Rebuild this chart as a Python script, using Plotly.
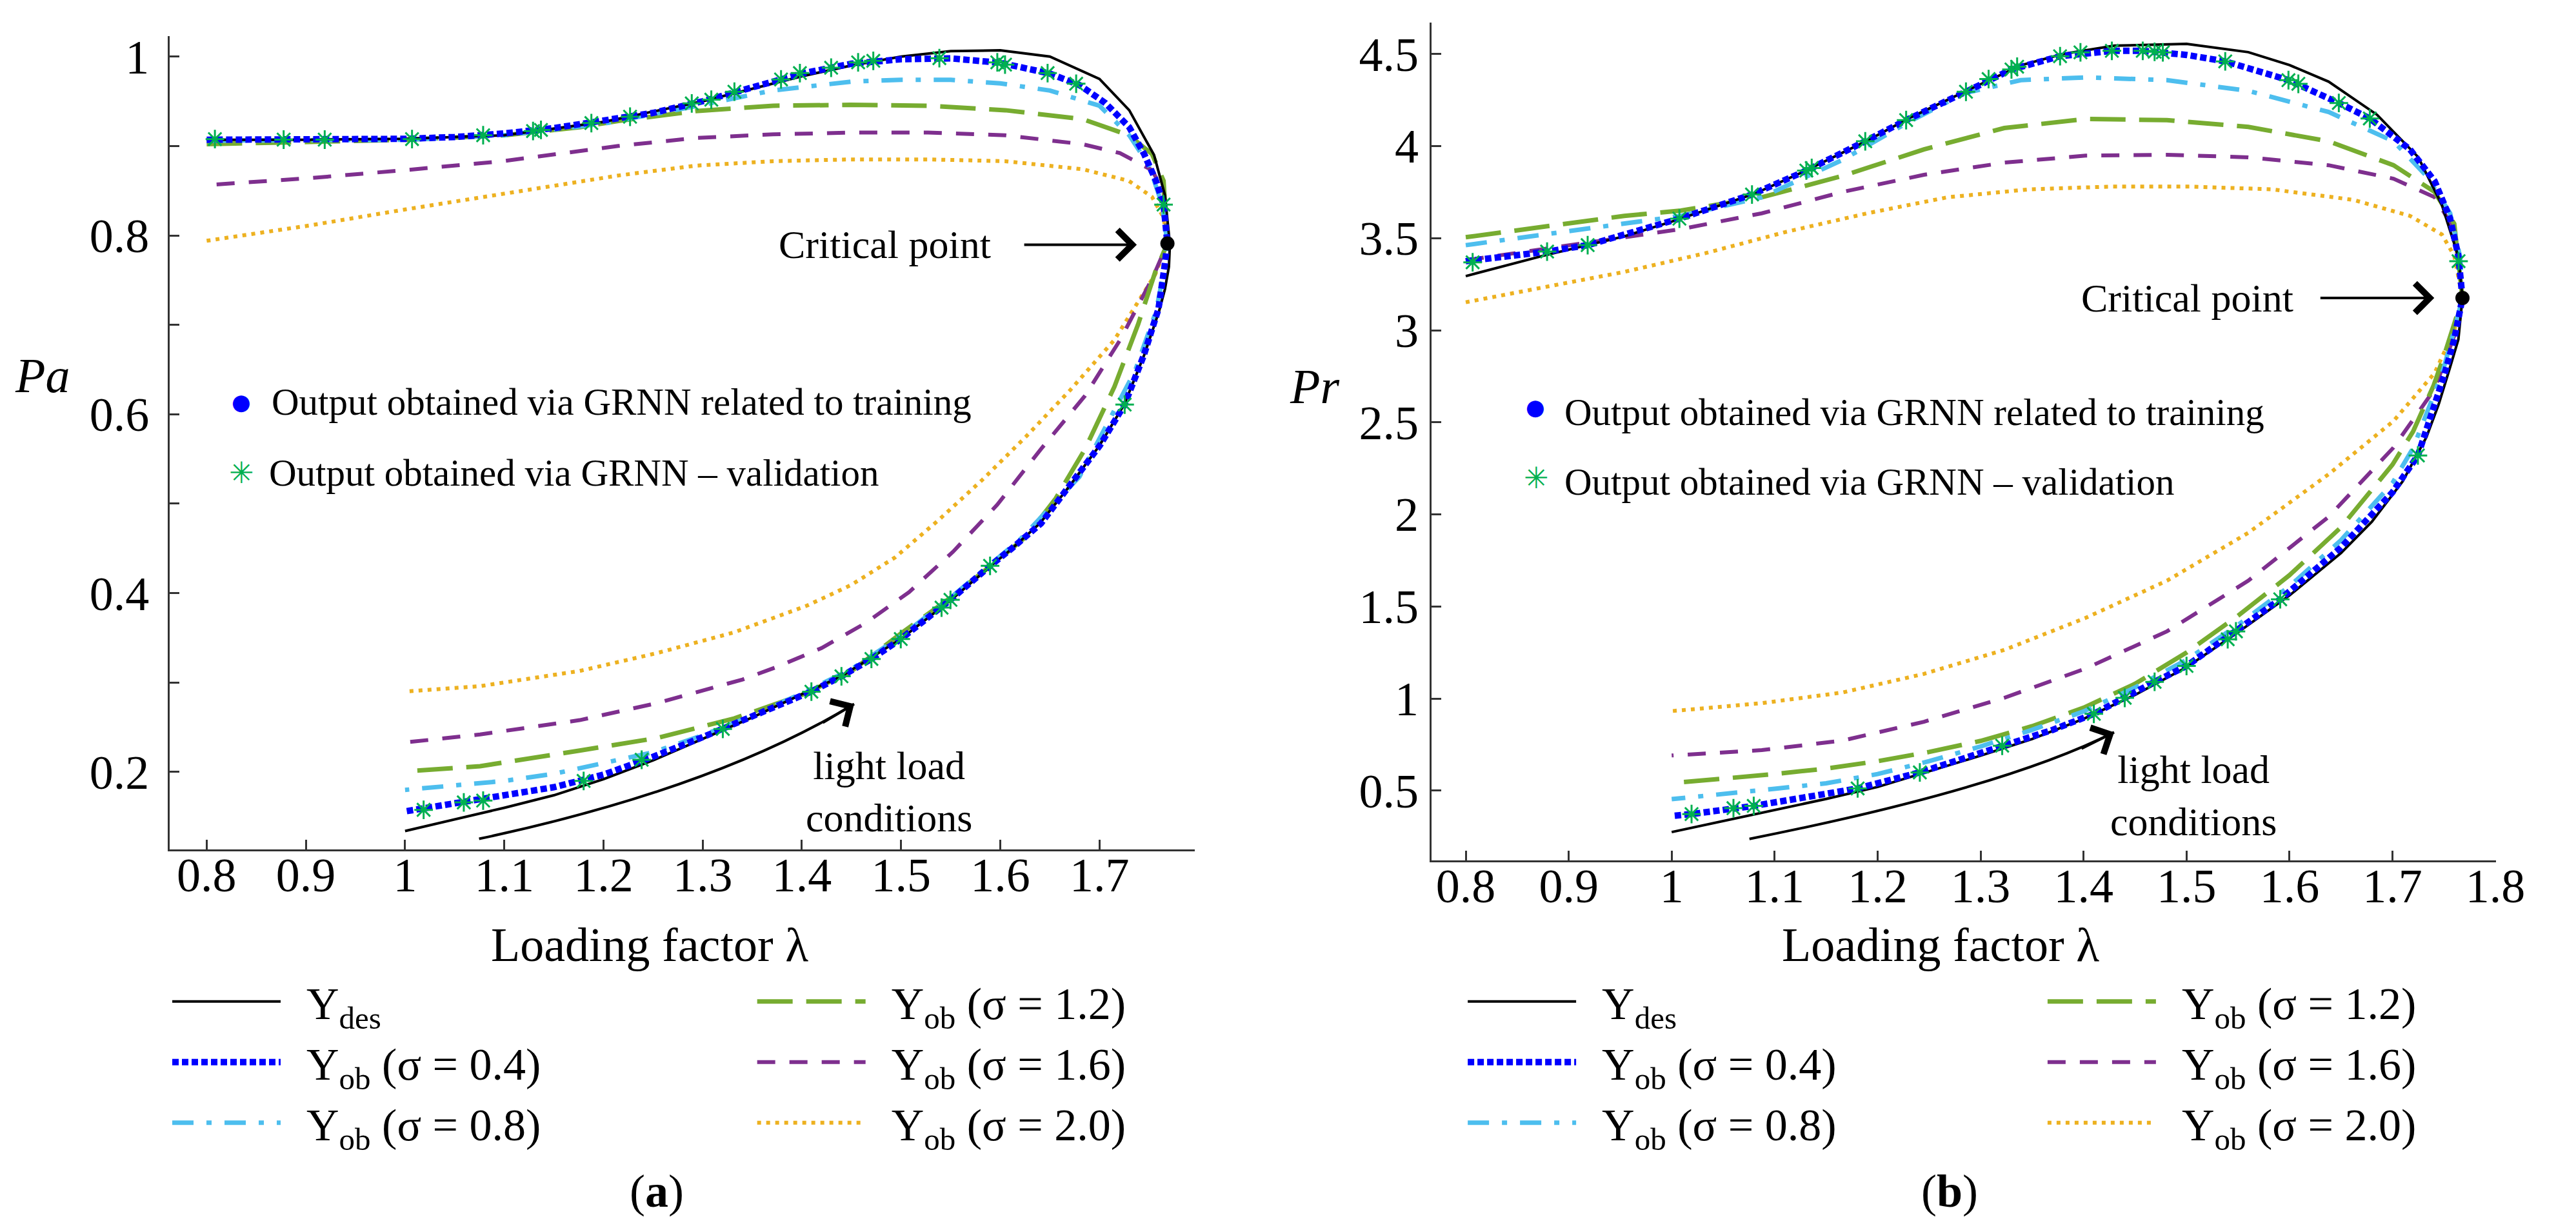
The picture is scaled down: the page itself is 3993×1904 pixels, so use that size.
import plotly.graph_objects as go

# ------------------------------------------------------------------ data
# (a) active power Pa versus loading factor lambda (upper branch -> nose -> lower branch)
pa_des_x = [0.80, 0.90, 1.00, 1.10, 1.20, 1.30, 1.40, 1.45, 1.50, 1.55, 1.60, 1.65, 1.70, 1.73, 1.755,
            1.766, 1.771, 1.770, 1.766, 1.760, 1.745, 1.725, 1.700, 1.670, 1.640, 1.610, 1.590, 1.550,
            1.500, 1.440, 1.400, 1.350, 1.300, 1.250, 1.200, 1.150, 1.100, 1.050, 1.000]
pa_des_y = [0.907, 0.907, 0.908, 0.912, 0.927, 0.950, 0.978, 0.990, 1.000, 1.006, 1.007, 1.000, 0.975,
            0.940, 0.890, 0.845, 0.790, 0.765, 0.740, 0.715, 0.666, 0.611, 0.565, 0.520, 0.478, 0.448,
            0.430, 0.392, 0.349, 0.307, 0.287, 0.261, 0.237, 0.213, 0.192, 0.174, 0.160, 0.147, 0.134]

pa_s04_x = [0.80, 0.85, 0.90, 0.95, 1.00, 1.05, 1.10, 1.15, 1.20, 1.25, 1.30, 1.35, 1.40, 1.45, 1.50,
            1.55, 1.60, 1.65, 1.68, 1.706, 1.730, 1.745, 1.757, 1.7646, 1.7685, 1.7653, 1.7595, 1.7447,
            1.7254, 1.7003, 1.6707, 1.6411, 1.6116, 1.5897, 1.5498, 1.4997, 1.4701, 1.4399, 1.4096,
            1.35, 1.30, 1.25, 1.20, 1.15, 1.10, 1.05, 1.00]
pa_s04_y = [0.907, 0.907, 0.907, 0.907, 0.908, 0.910, 0.914, 0.920, 0.928, 0.937, 0.950, 0.966, 0.981,
            0.992, 0.997, 0.998, 0.993, 0.981, 0.968, 0.948, 0.921, 0.891, 0.861, 0.8345, 0.791, 0.763,
            0.718, 0.666, 0.611, 0.565, 0.520, 0.478, 0.450, 0.4305, 0.3925, 0.3487, 0.3264, 0.307,
            0.290, 0.262, 0.239, 0.217, 0.197, 0.183, 0.174, 0.165, 0.156]

pa_s08_x = [0.80, 0.90, 1.00, 1.10, 1.20, 1.30, 1.37, 1.45, 1.50, 1.55, 1.60, 1.65, 1.70, 1.73, 1.75,
            1.763, 1.7685, 1.765, 1.757, 1.7357, 1.6797, 1.62, 1.55, 1.50, 1.45, 1.40, 1.35, 1.30,
            1.25, 1.20, 1.15, 1.10, 1.05, 1.00]
pa_s08_y = [0.906, 0.906, 0.907, 0.912, 0.925, 0.946, 0.962, 0.972, 0.974, 0.974, 0.970, 0.962, 0.945,
            0.912, 0.878, 0.835, 0.791, 0.760, 0.715, 0.648, 0.530, 0.460, 0.395, 0.352, 0.315, 0.288,
            0.263, 0.241, 0.222, 0.210, 0.198, 0.190, 0.185, 0.180]

pa_s12_x = [0.80, 0.90, 1.00, 1.10, 1.137, 1.176, 1.215, 1.293, 1.371, 1.449, 1.527, 1.605, 1.683,
            1.7296, 1.753, 1.7646, 1.7685, 1.7563, 1.7389, 1.7151, 1.6855, 1.6559, 1.6264, 1.5968,
            1.55, 1.50, 1.449, 1.402, 1.332, 1.254, 1.176, 1.0756, 1.00]
pa_s12_y = [0.902, 0.904, 0.907, 0.912, 0.916, 0.921, 0.928, 0.939, 0.945, 0.946, 0.945, 0.940, 0.930,
            0.912, 0.891, 0.861, 0.791, 0.7594, 0.7005, 0.6309, 0.5612, 0.5059, 0.4635, 0.4363,
            0.395, 0.355, 0.312, 0.287, 0.260, 0.238, 0.224, 0.2065, 0.2006]

pa_s16_x = [0.81, 0.903, 1.00, 1.098, 1.215, 1.293, 1.371, 1.449, 1.527, 1.605, 1.683, 1.7206, 1.753,
            1.7646, 1.7685, 1.7537, 1.7209, 1.6855, 1.6411, 1.5968, 1.5524, 1.508, 1.4643, 1.4199,
            1.3756, 1.3402, 1.293, 1.254, 1.176, 1.0756, 1.00]
pa_s16_y = [0.857, 0.864, 0.873, 0.883, 0.900, 0.909, 0.913, 0.915, 0.915, 0.912, 0.902, 0.892, 0.873,
            0.849, 0.791, 0.753, 0.6833, 0.6208, 0.5612, 0.4987, 0.4463, 0.4011, 0.3666, 0.3386,
            0.3178, 0.3034, 0.289, 0.277, 0.258, 0.242, 0.233]

pa_s20_x = [0.80, 0.903, 1.00, 1.098, 1.215, 1.293, 1.371, 1.449, 1.527, 1.605, 1.683, 1.7296, 1.753,
            1.7646, 1.7685, 1.7563, 1.7151, 1.6707, 1.6264, 1.582, 1.5376, 1.4939, 1.4495, 1.4051,
            1.3608, 1.3312, 1.254, 1.176, 1.0756, 1.00]
pa_s20_y = [0.794, 0.811, 0.829, 0.846, 0.867, 0.878, 0.883, 0.885, 0.885, 0.883, 0.874, 0.861, 0.843,
            0.820, 0.791, 0.7566, 0.6833, 0.6273, 0.5756, 0.5268, 0.4815, 0.4399, 0.409, 0.386,
            0.368, 0.356, 0.333, 0.313, 0.296, 0.290]

pa_val_x = [0.8083, 0.8776, 0.919, 1.007, 1.0787, 1.129, 1.137, 1.1878, 1.2268, 1.289, 1.3087, 1.332,
            1.379, 1.398, 1.4295, 1.4567, 1.472, 1.5386, 1.597, 1.6048, 1.6477, 1.6765, 1.7646, 1.7254,
            1.5897, 1.5498, 1.5408, 1.4997, 1.4701, 1.4399, 1.4096, 1.3203, 1.2385, 1.18, 1.0787,
            1.0592, 1.0187]
pa_val_y = [0.9077, 0.9071, 0.9071, 0.9077, 0.912, 0.9167, 0.918, 0.9256, 0.9327, 0.9476, 0.9518,
            0.9607, 0.9744, 0.9815, 0.9875, 0.9935, 0.9952, 0.9982, 0.9935, 0.991, 0.9815, 0.9696,
            0.8345, 0.6108, 0.4305, 0.3925, 0.3838, 0.3487, 0.3264, 0.307, 0.2898, 0.2482, 0.2137,
            0.19, 0.168, 0.166, 0.1577]

pa_crit_x = [1.7685]
pa_crit_y = [0.791]

# (b) reactive power Pr versus loading factor lambda
pr_des_x = [0.80, 0.875, 0.954, 1.00, 1.08, 1.13, 1.19, 1.23, 1.29, 1.34, 1.38, 1.43, 1.50, 1.56, 1.60,
            1.638, 1.685, 1.725, 1.748, 1.764, 1.768, 1.764, 1.756, 1.745, 1.733, 1.71, 1.68, 1.65,
            1.60, 1.55, 1.50, 1.45, 1.40, 1.35, 1.30, 1.25, 1.20, 1.15, 1.10, 1.05, 1.00]
pr_des_y = [3.294, 3.404, 3.51, 3.59, 3.74, 3.866, 4.03, 4.15, 4.31, 4.44, 4.50, 4.545, 4.555, 4.51,
            4.44, 4.35, 4.17, 3.94, 3.68, 3.40, 3.175, 2.95, 2.80, 2.60, 2.42, 2.18, 1.96, 1.79, 1.56,
            1.36, 1.17, 1.02, 0.89, 0.78, 0.69, 0.605, 0.52, 0.455, 0.395, 0.335, 0.275]

pr_s04_x = [0.80, 0.879, 0.9184, 1.0075, 1.078, 1.1308, 1.188, 1.2277, 1.2858, 1.33, 1.3772, 1.4275,
            1.4575, 1.50, 1.5376, 1.599, 1.6479, 1.678, 1.717, 1.741, 1.756, 1.764, 1.768, 1.76, 1.75,
            1.74, 1.7247, 1.70, 1.65, 1.591, 1.548, 1.50, 1.469, 1.44, 1.41, 1.37, 1.321, 1.28, 1.241,
            1.1806, 1.13, 1.0797, 1.0193, 1.00]
pr_s04_y = [3.375, 3.427, 3.462, 3.606, 3.737, 3.867, 4.026, 4.141, 4.295, 4.416, 4.488, 4.517, 4.517,
            4.495, 4.46, 4.358, 4.234, 4.15, 3.982, 3.809, 3.606, 3.404, 3.175, 2.95, 2.75, 2.57, 2.32,
            2.12, 1.82, 1.539, 1.365, 1.177, 1.091, 1.004, 0.917, 0.83, 0.744, 0.67, 0.599, 0.512,
            0.46, 0.417, 0.373, 0.362]

pr_s08_x = [0.80, 0.875, 0.954, 1.009, 1.0875, 1.166, 1.229, 1.284, 1.339, 1.402, 1.481, 1.56, 1.638,
            1.701, 1.733, 1.756, 1.7655, 1.768, 1.76, 1.75, 1.741, 1.72, 1.70, 1.65, 1.60, 1.55, 1.50,
            1.45, 1.40, 1.35, 1.30, 1.25, 1.20, 1.15, 1.10, 1.05, 1.00]
pr_s08_y = [3.462, 3.52, 3.578, 3.621, 3.722, 3.925, 4.127, 4.286, 4.358, 4.373, 4.358, 4.30, 4.185,
            4.026, 3.838, 3.635, 3.404, 3.175, 3.00, 2.80, 2.66, 2.36, 2.17, 1.86, 1.61, 1.40, 1.21,
            1.06, 0.93, 0.83, 0.74, 0.66, 0.59, 0.54, 0.51, 0.48, 0.454]

pr_s12_x = [0.80, 0.875, 0.954, 1.009, 1.0875, 1.166, 1.245, 1.323, 1.402, 1.481, 1.56, 1.638, 1.701,
            1.741, 1.76, 1.768, 1.76, 1.75, 1.74, 1.72, 1.70, 1.65, 1.60, 1.55, 1.50, 1.45, 1.40, 1.35,
            1.30, 1.25, 1.20, 1.15, 1.10, 1.05, 1.00]
pr_s12_y = [3.505, 3.563, 3.621, 3.65, 3.722, 3.838, 3.982, 4.098, 4.147, 4.141, 4.104, 4.026, 3.896,
            3.751, 3.578, 3.175, 3.03, 2.86, 2.70, 2.45, 2.27, 1.93, 1.67, 1.45, 1.25, 1.08, 0.95,
            0.85, 0.77, 0.71, 0.66, 0.62, 0.59, 0.565, 0.541]

pr_s16_x = [0.80, 0.875, 0.922, 0.954, 1.009, 1.0875, 1.166, 1.245, 1.323, 1.402, 1.481, 1.56, 1.638,
            1.701, 1.741, 1.76, 1.768, 1.76, 1.741, 1.701, 1.638, 1.56, 1.481, 1.402, 1.323, 1.245,
            1.166, 1.0875, 1.00]
pr_s16_y = [3.38, 3.44, 3.476, 3.505, 3.549, 3.635, 3.751, 3.844, 3.91, 3.948, 3.953, 3.939, 3.896,
            3.823, 3.722, 3.549, 3.175, 2.97, 2.681, 2.363, 1.987, 1.64, 1.365, 1.163, 1.004, 0.874,
            0.772, 0.72, 0.691]

pr_s20_x = [0.80, 0.875, 0.954, 1.0325, 1.111, 1.19, 1.268, 1.347, 1.426, 1.504, 1.583, 1.662, 1.717,
            1.748, 1.76, 1.768, 1.76, 1.741, 1.701, 1.638, 1.56, 1.481, 1.402, 1.323, 1.245, 1.166,
            1.0875, 1.00]
pr_s20_y = [3.152, 3.23, 3.317, 3.418, 3.534, 3.635, 3.722, 3.765, 3.78, 3.78, 3.765, 3.708, 3.621,
            3.52, 3.404, 3.175, 2.999, 2.768, 2.507, 2.218, 1.90, 1.64, 1.438, 1.264, 1.134, 1.033,
            0.975, 0.932]

pr_val_x = [0.8067, 0.879, 0.9184, 1.0075, 1.078, 1.1308, 1.136, 1.188, 1.2277, 1.2858, 1.3078, 1.33,
            1.3355, 1.3772, 1.397, 1.4275, 1.4575, 1.469, 1.477, 1.5376, 1.599, 1.6086, 1.6479, 1.678,
            1.7642, 1.7247, 1.591, 1.548, 1.54, 1.50, 1.469, 1.44, 1.41, 1.321, 1.241, 1.1806, 1.0797,
            1.06, 1.0193]
pr_val_y = [3.369, 3.427, 3.462, 3.606, 3.737, 3.867, 3.881, 4.026, 4.141, 4.295, 4.364, 4.416, 4.431,
            4.488, 4.509, 4.517, 4.517, 4.512, 4.509, 4.46, 4.358, 4.338, 4.234, 4.15, 3.375, 2.32,
            1.539, 1.365, 1.322, 1.177, 1.091, 1.004, 0.917, 0.744, 0.599, 0.512, 0.417, 0.405, 0.373]

pr_crit_x = [1.768]
pr_crit_y = [3.175]

# tick labels
pa_x_ticks = [0.8, 0.9, 1.0, 1.1, 1.2, 1.3, 1.4, 1.5, 1.6, 1.7]
pa_x_labels = ["0.8", "0.9", "1", "1.1", "1.2", "1.3", "1.4", "1.5", "1.6", "1.7"]
pa_y_ticks = [0.2, 0.4, 0.6, 0.8, 1.0]
pa_y_labels = ["0.2", "0.4", "0.6", "0.8", "1"]
pa_y_minor = [0.3, 0.5, 0.7, 0.9]
pr_x_ticks = [0.8, 0.9, 1.0, 1.1, 1.2, 1.3, 1.4, 1.5, 1.6, 1.7, 1.8]
pr_x_labels = ["0.8", "0.9", "1", "1.1", "1.2", "1.3", "1.4", "1.5", "1.6", "1.7", "1.8"]
pr_y_ticks = [0.5, 1.0, 1.5, 2.0, 2.5, 3.0, 3.5, 4.0, 4.5]
pr_y_labels = ["0.5", "1", "1.5", "2", "2.5", "3", "3.5", "4", "4.5"]

series_names = ["Y<sub>des</sub>", "Y<sub>ob</sub> (σ = 0.4)", "Y<sub>ob</sub> (σ = 0.8)",
                "Y<sub>ob</sub> (σ = 1.2)", "Y<sub>ob</sub> (σ = 1.6)", "Y<sub>ob</sub> (σ = 2.0)"]

# ------------------------------------------------------------------ styles
SERIF = "Liberation Serif, Times New Roman, serif"
W, H = 3993, 1904
BLACK = "#000000"
NBSP = "\u00a0\u00a0"
styles = {
    "des": dict(color=BLACK, width=4, dash="solid"),
    "s04": dict(color="#0000FF", width=10, dash="10px,5px"),
    "s08": dict(color="#4DBEEE", width=7, dash="33px,20px,8px,20px"),
    "s12": dict(color="#77AC30", width=7, dash="55px,21px"),
    "s16": dict(color="#7E2F8E", width=6, dash="28px,22px"),
    "s20": dict(color="#EDB120", width=6, dash="6px,8px"),
}
rank = {"des": 1, "s04": 2, "s08": 3, "s12": 4, "s16": 5, "s20": 6}
name_of = dict(zip(["des", "s04", "s08", "s12", "s16", "s20"], series_names))
STAR = "#00B050"

fig = go.Figure()


def add_panel(xa, ya, data, val, crit, leg_a, leg_b):
    for key in ["s20", "s16", "s12", "s08", "des", "s04"]:
        xs, ys = data[key]
        fig.add_trace(go.Scatter(
            x=xs, y=ys, mode="lines", name=NBSP + name_of[key], line=styles[key],
            xaxis=xa, yaxis=ya, legend=leg_a if key in ("des", "s04", "s08") else leg_b,
            legendrank=rank[key], hoverinfo="skip"))
    fig.add_trace(go.Scatter(
        x=val[0], y=val[1], mode="markers", showlegend=False, xaxis=xa, yaxis=ya,
        name="Output obtained via GRNN – validation",
        marker=dict(symbol="asterisk-open", size=24, color=STAR, line=dict(color=STAR, width=3)),
        hoverinfo="skip"))
    fig.add_trace(go.Scatter(
        x=crit[0], y=crit[1], mode="markers", showlegend=False, xaxis=xa, yaxis=ya,
        name="Critical point", marker=dict(symbol="circle", size=22, color=BLACK),
        hoverinfo="skip"))


add_panel("x", "y",
          {"des": (pa_des_x, pa_des_y), "s04": (pa_s04_x, pa_s04_y), "s08": (pa_s08_x, pa_s08_y),
           "s12": (pa_s12_x, pa_s12_y), "s16": (pa_s16_x, pa_s16_y), "s20": (pa_s20_x, pa_s20_y)},
          (pa_val_x, pa_val_y), (pa_crit_x, pa_crit_y), "legend", "legend2")
add_panel("x2", "y2",
          {"des": (pr_des_x, pr_des_y), "s04": (pr_s04_x, pr_s04_y), "s08": (pr_s08_x, pr_s08_y),
           "s12": (pr_s12_x, pr_s12_y), "s16": (pr_s16_x, pr_s16_y), "s20": (pr_s20_x, pr_s20_y)},
          (pr_val_x, pr_val_y), (pr_crit_x, pr_crit_y), "legend3", "legend4")

AX = "#333333"
tickfont = dict(family=SERIF, size=74, color=BLACK)


def xaxis(domain, rng, tv, tt, anchor):
    return dict(domain=domain, range=rng, anchor=anchor, showline=True, linecolor=AX, linewidth=3,
                ticks="inside", ticklen=15, tickwidth=3, tickcolor=AX,
                tickmode="array", tickvals=tv, ticktext=tt, tickfont=tickfont,
                ticklabelstandoff=-27, showgrid=False, zeroline=False)


def yaxis(domain, rng, tv, tt, anchor, standoff, minor=None):
    d = dict(domain=domain, range=rng, anchor=anchor, showline=True, linecolor=AX, linewidth=3,
             ticks="inside", ticklen=15, tickwidth=3, tickcolor=AX,
             tickmode="array", tickvals=tv, ticktext=tt, tickfont=tickfont,
             ticklabelstandoff=standoff, showgrid=False, zeroline=False)
    if minor:
        d["minor"] = dict(tickmode="array", tickvals=minor, ticks="inside", ticklen=15,
                          tickwidth=3, tickcolor=AX, showgrid=False)
    return d


legfont = dict(family=SERIF, size=70, color=BLACK)


def legend(xpx, ypx):
    return dict(x=xpx / W, y=1 - ypx / H, xanchor="left", yanchor="top", font=legfont,
                bgcolor="rgba(0,0,0,0)", borderwidth=0, itemwidth=168, tracegroupgap=0,
                orientation="v")


txt = dict(family=SERIF, size=62, color=BLACK)
txt_long = dict(family=SERIF, size=59, color=BLACK)
big = dict(family=SERIF, size=74, color=BLACK)
arrow = dict(text="", showarrow=True, arrowhead=4, arrowsize=2.2, arrowwidth=4, arrowcolor=BLACK)


def ann(text, x, y, xref, yref, font, **kw):
    d = dict(text=text, x=x, y=y, xref=xref, yref=yref, showarrow=False, font=font,
             xanchor="center", yanchor="middle")
    d.update(kw)
    return d


dot_font = dict(family="DejaVu Sans", size=34, color="#0000FF")
star_font = dict(family="DejaVu Sans", size=46, color=STAR)

annotations = [
    ann("<i>Pa</i>", 66 / W, 1 - 576 / H, "paper", "paper", dict(family=SERIF, size=76, color=BLACK)),
    ann("<i>Pr</i>", 2061 / W, 1 - 593 / H, "paper", "paper", dict(family=SERIF, size=76, color=BLACK)),
    ann("Loading factor λ", 1018 / W, 1 - 1463 / H, "paper", "paper", big),
    ann("Loading factor λ", 3042 / W, 1 - 1463 / H, "paper", "paper", big),
    ann("(<b>a</b>)", 1030 / W, 1 - 1847 / H, "paper", "paper", dict(family=SERIF, size=72, color=BLACK)),
    ann("(<b>b</b>)", 3056 / W, 1 - 1847 / H, "paper", "paper", dict(family=SERIF, size=72, color=BLACK)),
    # panel (a)
    ann("Critical point", 1.5916, 0.7896, "x", "y", txt, xanchor="right"),
    dict(arrow, x=1.7376, y=0.7896, xref="x", yref="y", ax=-176, ay=0),
    ann("light load<br>conditions", 1.488, 0.1777, "x", "y", txt, align="center"),
    dict(arrow, x=1.4527, y=0.2761, xref="x", yref="y", ax=-50, ay=30),
    ann("●", 0.8347, 0.6137, "x", "y", dot_font),
    ann("Output obtained via GRNN related to training", 0.8643, 0.6137, "x", "y", txt_long,
        xanchor="left"),
    ann("✳", 0.835, 0.5346, "x", "y", star_font),
    ann("Output obtained via GRNN – validation", 0.8617, 0.5346, "x", "y", txt_long, xanchor="left"),
    # panel (b)
    ann("Critical point", 1.605, 3.175, "x2", "y2", txt, xanchor="right"),
    dict(arrow, x=1.7406, y=3.175, xref="x2", yref="y2", ax=-178, ay=0),
    ann("light load<br>conditions", 1.5065, 0.472, "x2", "y2", txt, align="center"),
    dict(arrow, x=1.4297, y=0.817, xref="x2", yref="y2", ax=-52, ay=26),
    ann("●", 0.8675, 2.582, "x2", "y2", dot_font),
    ann("Output obtained via GRNN related to training", 0.8947, 2.554, "x2", "y2", txt_long,
        xanchor="left"),
    ann("✳", 0.8687, 2.198, "x2", "y2", star_font),
    ann("Output obtained via GRNN – validation", 0.8947, 2.177, "x2", "y2", txt_long, xanchor="left"),
]

shapes = [
    dict(type="path", xref="x", yref="y", path="M 1.0746,0.1253 Q 1.3119,0.1813 1.4527,0.2761",
         line=dict(color=BLACK, width=4)),
    dict(type="path", xref="x2", yref="y2", path="M 1.0755,0.238 Q 1.3207,0.5105 1.4297,0.817",
         line=dict(color=BLACK, width=4)),
]

fig.update_layout(
    width=W, height=H, margin=dict(l=0, r=0, t=0, b=0),
    paper_bgcolor="#FFFFFF", plot_bgcolor="#FFFFFF",
    font=dict(family=SERIF, color=BLACK),
    xaxis=xaxis([266 / W, 1873 / W], [0.7627, 1.796], pa_x_ticks, pa_x_labels, "y"),
    yaxis=yaxis([1 - 1315 / H, 1 - 48 / H], [0.1131, 1.023], pa_y_ticks, pa_y_labels, "x", 14,
                pa_y_minor),
    xaxis2=xaxis([2244 / W, 3913 / W], [0.7666, 1.8005], pr_x_ticks, pr_x_labels, "y2"),
    yaxis2=yaxis([1 - 1332 / H, 1 - 27 / H], [0.12, 4.671], pr_y_ticks, pr_y_labels, "x2", 2),
    legend=legend(265, 1499), legend2=legend(1182, 1499),
    legend3=legend(2296, 1499), legend4=legend(3205, 1499),
    annotations=annotations, shapes=shapes, showlegend=True,
)

fig.write_html("out.html", config={"displayModeBar": False},
               post_script="document.body.style.margin='0px';")
